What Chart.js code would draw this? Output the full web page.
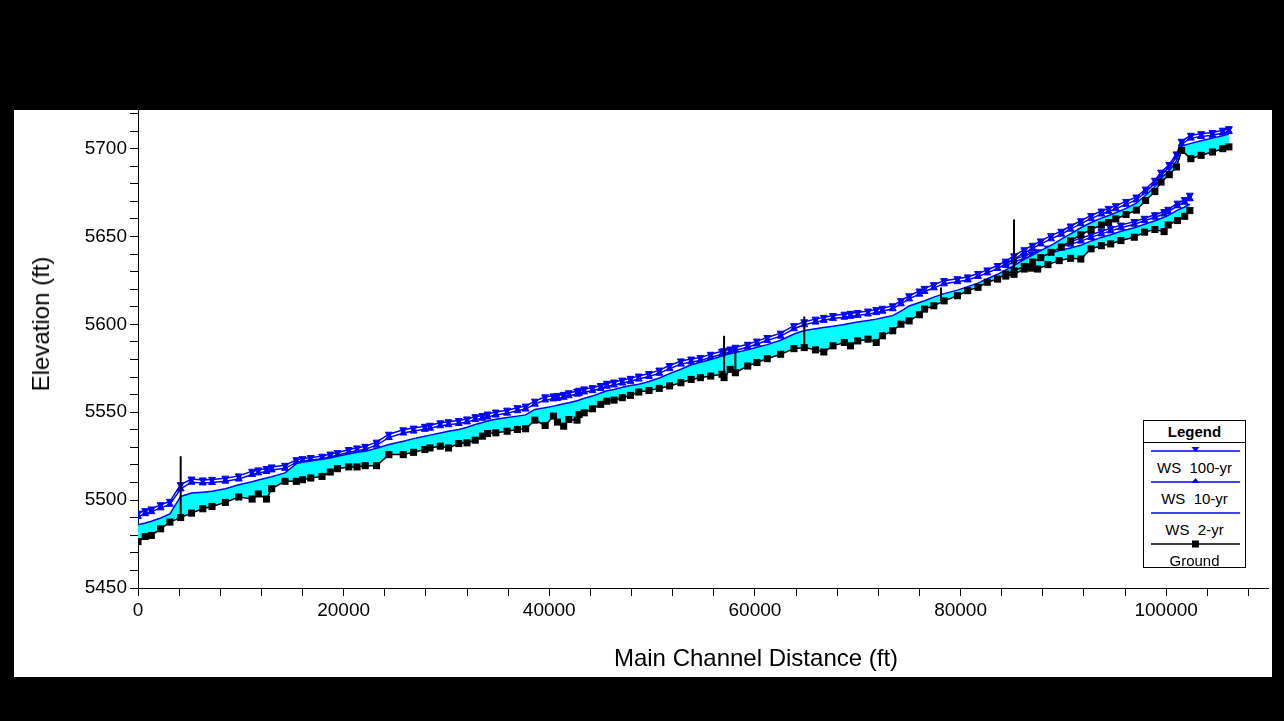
<!DOCTYPE html>
<html>
<head>
<meta charset="utf-8">
<title>Profile Plot</title>
<script src="https://cdn.jsdelivr.net/npm/chart.js@4.4.1/dist/chart.umd.min.js"></script>
<style>
  html, body { margin: 0; padding: 0; background: #000; }
  body { width: 1284px; height: 721px; position: relative; overflow: hidden;
         font-family: "Liberation Sans", Arial, sans-serif; }
  #panel { position: absolute; left: 14px; top: 110px; width: 1258px; height: 567px; background: #fff; }
  #chart { position: absolute; left: 0; top: 0; }
  .axis-title { position: absolute; font-size: 24px; color: #000; white-space: nowrap; line-height: 28px; }
  #x-title { left: 756px; top: 644px; transform: translateX(-50%); }
  #y-title { left: 41px; top: 324px; transform: translate(-50%, -50%) rotate(-90deg); }
  #legend { position: absolute; left: 1143px; top: 420px; width: 103px; height: 148px;
            box-sizing: border-box; border: 1px solid #000; background: #fff; }
  #legend .head { height: 21px; line-height: 21px; border-bottom: 1px solid #000;
                  text-align: center; font-weight: bold; font-size: 15px; }
  #legend .entry { position: relative; height: 31px; }
  #legend svg { position: absolute; left: 0; top: 1px; }
  #legend .lbl { position: absolute; left: 0; top: 16px; width: 101px; height: 18px; line-height: 18px;
                 text-align: center; font-size: 15px; white-space: pre; }
</style>
</head>
<body>
<div id="panel"><canvas id="chart" width="1255" height="567"></canvas></div>
<div class="axis-title" id="x-title">Main Channel Distance (ft)</div>
<div class="axis-title" id="y-title">Elevation (ft)</div>
<div id="legend"><div class="head">Legend</div></div>
<script>
// axis labels
const xTickLabels = [0, 20000, 40000, 60000, 80000, 100000];
const yTickLabels = [5450, 5500, 5550, 5600, 5650, 5700];
const xMinorStep = 4000;
const yMinorStep = 10;
const seriesLabels = ["WS  100-yr", "WS  10-yr", "WS  2-yr", "Ground"];

// main reach (cross sections, ft)
const mainStation = [
  0, 700, 1300, 2200, 3100, 4150, 5200, 6300, 7200, 8500,
  9800, 11100, 11700, 12500, 13000, 14300, 15400, 16000, 16800, 17900,
  18700, 19400, 20500, 21300, 22100, 23200, 24400, 25800, 26800, 27900,
  28400, 29400, 30200, 31200, 32000, 32800, 33500, 34000, 34800, 35900,
  36900, 37700, 38600, 39600, 40400, 40800, 41400, 41900, 42700, 42900,
  43400, 44200, 45000, 45600, 46300, 47100, 47900, 48700, 49700, 50700,
  51700, 52800, 53800, 54700, 55700, 56800, 57000, 57600, 58100, 59300,
  60200, 61200, 62500, 63800, 64800, 65900, 66700, 67600, 68700, 69300,
  70000, 71000, 71800, 72400, 73400, 74200, 75000, 76000, 76500, 77400,
  78400, 79700, 80700, 81700, 82600, 83600, 84400, 85200, 86200, 87000,
  87800, 88800, 89800, 90700, 91700, 92700, 93700, 94400, 95100, 96100,
  97100, 98000, 98900, 99500, 100300, 101000, 101500, 102400, 103400, 104500,
  105500, 106100
];
const mainGround = [
  5476.4, 5479.3, 5479.9, 5483.7, 5487.5, 5490.1, 5492.6, 5495.1, 5496.4, 5498.7,
  5501.8, 5500.6, 5503.5, 5500.6, 5506.5, 5510.7, 5510.7, 5511.6, 5512.6, 5513.5,
  5516.0, 5517.9, 5518.9, 5518.9, 5519.6, 5519.6, 5525.9, 5525.9, 5527.2, 5528.8,
  5529.7, 5530.7, 5529.7, 5532.2, 5532.6, 5534.1, 5536.4, 5537.9, 5538.3, 5539.2,
  5540.2, 5540.6, 5545.5, 5542.5, 5547.8, 5544.4, 5542.1, 5545.9, 5545.5, 5548.7,
  5549.7, 5552.0, 5554.5, 5556.3, 5556.9, 5558.3, 5559.6, 5561.5, 5562.4, 5563.6,
  5565.0, 5566.8, 5568.7, 5569.7, 5570.6, 5571.6, 5569.7, 5574.4, 5572.5, 5576.3,
  5578.3, 5580.5, 5583.0, 5586.2, 5586.8, 5585.5, 5584.3, 5587.8, 5589.7, 5587.8,
  5590.6, 5591.6, 5589.7, 5593.5, 5596.4, 5600.1, 5602.0, 5605.5, 5608.7, 5610.6,
  5613.4, 5616.3, 5619.2, 5621.1, 5624.0, 5625.8, 5628.7, 5630.5, 5633.0, 5635.5,
  5638.0, 5641.0, 5644.0, 5647.5, 5651.0, 5654.0, 5656.5, 5658.0, 5660.0, 5662.5,
  5665.0, 5670.5, 5675.6, 5681.0, 5685.2, 5689.6, 5699.0, 5694.3, 5696.2, 5698.1,
  5700.0, 5701.0
];
const mainWs2 = [
  5486.0, 5487.0, 5488.0, 5489.8, 5492.2, 5502.1, 5504.0, 5504.5, 5505.0, 5506.5,
  5508.8, 5510.5, 5511.5, 5512.6, 5513.3, 5515.5, 5520.8, 5521.5, 5522.3, 5523.3,
  5524.0, 5525.0, 5526.3, 5527.2, 5527.8, 5529.5, 5531.6, 5533.5, 5535.0, 5536.4,
  5537.0, 5538.2, 5539.2, 5540.2, 5541.5, 5543.0, 5544.2, 5545.0, 5546.0, 5547.0,
  5547.8, 5548.5, 5551.6, 5552.6, 5553.5, 5554.0, 5554.8, 5555.4, 5556.5, 5557.0,
  5558.0, 5559.2, 5561.0, 5562.2, 5563.0, 5564.2, 5565.2, 5566.0, 5567.5, 5569.5,
  5572.0, 5574.5, 5577.0, 5578.5, 5580.0, 5582.0, 5582.5, 5583.3, 5584.0, 5585.5,
  5587.0, 5588.5, 5591.0, 5594.5, 5596.5, 5597.5, 5598.2, 5599.0, 5600.0, 5600.6,
  5601.3, 5602.2, 5603.0, 5603.8, 5605.0, 5607.5, 5610.5, 5612.5, 5613.5, 5615.5,
  5617.5, 5619.5, 5621.5, 5623.5, 5626.0, 5628.5, 5631.0, 5633.5, 5637.0, 5639.5,
  5642.0, 5645.0, 5648.5, 5651.5, 5655.0, 5658.0, 5660.5, 5662.0, 5663.5, 5666.0,
  5669.0, 5673.5, 5678.5, 5683.0, 5687.5, 5693.0, 5701.5, 5703.0, 5704.5, 5706.0,
  5707.3, 5708.3
];
const mainWs10 = [
  5490.7, 5492.3, 5493.4, 5495.6, 5497.6, 5506.4, 5510.2, 5509.8, 5510.0, 5510.8,
  5512.0, 5514.6, 5515.5, 5516.3, 5517.2, 5518.1, 5521.5, 5522.1, 5522.8, 5523.6,
  5524.7, 5525.5, 5527.2, 5528.1, 5529.0, 5531.3, 5535.6, 5538.2, 5539.3, 5540.3,
  5540.9, 5542.3, 5542.9, 5543.6, 5544.5, 5545.8, 5546.6, 5547.3, 5548.4, 5549.5,
  5550.9, 5551.8, 5554.6, 5557.0, 5557.6, 5557.9, 5558.5, 5559.4, 5560.3, 5560.8,
  5561.6, 5562.3, 5563.5, 5564.8, 5565.5, 5566.6, 5567.6, 5568.9, 5570.3, 5572.2,
  5574.8, 5577.4, 5578.6, 5579.4, 5581.3, 5583.0, 5583.3, 5584.3, 5585.3, 5587.0,
  5588.8, 5590.8, 5593.3, 5597.5, 5599.8, 5601.3, 5602.3, 5603.3, 5604.1, 5604.6,
  5605.1, 5605.9, 5606.7, 5607.5, 5608.9, 5611.7, 5614.5, 5617.2, 5618.7, 5620.8,
  5623.1, 5624.3, 5625.3, 5627.3, 5629.3, 5631.8, 5634.3, 5637.2, 5640.7, 5643.2,
  5645.8, 5648.7, 5651.3, 5654.2, 5657.3, 5660.2, 5662.8, 5664.3, 5665.8, 5668.3,
  5670.8, 5675.3, 5680.3, 5684.9, 5689.3, 5695.3, 5702.6, 5706.0, 5706.9, 5707.6,
  5708.9, 5709.8
];
const mainWs100 = [
  5492.6, 5494.0, 5495.0, 5497.4, 5499.3, 5508.8, 5512.0, 5511.5, 5511.8, 5512.5,
  5513.8, 5516.4, 5517.2, 5518.0, 5518.9, 5519.8, 5523.0, 5523.6, 5524.2, 5525.0,
  5526.2, 5527.0, 5528.8, 5529.7, 5530.6, 5533.0, 5537.5, 5540.0, 5541.0, 5542.0,
  5542.6, 5544.0, 5544.6, 5545.3, 5546.2, 5547.5, 5548.2, 5549.0, 5550.1, 5551.2,
  5552.6, 5553.5, 5556.3, 5558.8, 5559.3, 5559.6, 5560.2, 5561.1, 5562.0, 5562.5,
  5563.3, 5564.0, 5565.2, 5566.5, 5567.2, 5568.3, 5569.3, 5570.6, 5572.0, 5574.0,
  5576.6, 5579.2, 5580.3, 5581.1, 5583.0, 5584.7, 5585.0, 5586.0, 5587.0, 5588.7,
  5590.5, 5592.5, 5595.0, 5599.3, 5601.5, 5603.0, 5604.0, 5605.0, 5605.8, 5606.3,
  5606.8, 5607.6, 5608.4, 5609.2, 5610.6, 5613.5, 5616.3, 5619.0, 5620.5, 5622.6,
  5624.9, 5626.0, 5627.0, 5629.0, 5631.0, 5633.5, 5636.0, 5639.0, 5642.5, 5645.0,
  5647.5, 5650.5, 5653.0, 5656.0, 5659.0, 5662.0, 5664.5, 5666.0, 5667.5, 5670.0,
  5672.5, 5677.0, 5682.0, 5686.6, 5691.0, 5697.0, 5704.2, 5707.6, 5708.5, 5709.2,
  5710.5, 5711.4
];

// second reach above the junction
const tribStation = [84400, 85200, 86200, 86900, 87500, 88500, 89600, 90700, 91700, 92700,
  93700, 94600, 95600, 96900, 97900, 98900, 99800, 100200, 101100, 101800, 102300];
const tribGround = [5627.5, 5628.5, 5631.5, 5632.0, 5631.5, 5634.0, 5636.3, 5637.6, 5637.2, 5643.0,
  5644.8, 5645.8, 5647.7, 5649.6, 5652.5, 5654.0, 5652.8, 5656.6, 5659.1, 5661.5, 5664.8];
const tribWs2 = [5630.5, 5632.5, 5635.5, 5636.8, 5638.0, 5640.0, 5642.0, 5643.5, 5645.0, 5647.5,
  5649.5, 5651.0, 5653.0, 5655.0, 5657.0, 5659.0, 5661.0, 5662.0, 5665.0, 5666.8, 5668.5];
const tribWs10 = [5633.5, 5635.5, 5637.5, 5638.8, 5640.0, 5642.0, 5644.0, 5645.6, 5647.4, 5649.5,
  5651.5, 5653.2, 5655.0, 5657.0, 5659.0, 5661.0, 5662.8, 5664.0, 5667.5, 5669.5, 5671.5];
const tribWs100 = [5635.0, 5637.0, 5639.0, 5640.2, 5641.3, 5643.4, 5645.4, 5647.1, 5649.0, 5651.0,
  5653.0, 5654.7, 5656.5, 5658.5, 5660.4, 5662.4, 5664.2, 5665.5, 5669.0, 5671.0, 5673.5];

// structures (bridges / weirs)
const structStation = [4150, 57000, 58100, 64800, 78100, 85200];
const structLow = [5490.0, 5569.7, 5572.5, 5586.8, 5613.5, 5630.5];
const structHigh = [5525.0, 5593.5, 5584.0, 5604.5, 5621.0, 5659.7];

const BLUE = "#0000ff";
const CYAN = "#00ffff";

const pts = (xs, ys) => xs.map((x, i) => ({ x: x, y: ys[i] }));

function reachSets(st, ground, ws2, ws10, ws100) {
  return [
    { data: pts(st, ground), borderColor: "#000", borderWidth: 1.5, pointStyle: "rect",
      pointRadius: 5, pointHoverRadius: 0, pointBackgroundColor: "#000", pointBorderColor: "#000", pointBorderWidth: 0 },
    { data: pts(st, ws2), borderColor: BLUE, borderWidth: 1.5, pointRadius: 0, pointHoverRadius: 0,
      fill: "-1", backgroundColor: CYAN },
    { data: pts(st, ws10), borderColor: BLUE, borderWidth: 1.5, pointStyle: "triangle",
      pointRadius: 4, pointHoverRadius: 0, pointBackgroundColor: BLUE, pointBorderColor: BLUE, pointBorderWidth: 1 },
    { data: pts(st, ws100), borderColor: BLUE, borderWidth: 1.5, pointStyle: "triangle", pointRotation: 180,
      pointRadius: 4, pointHoverRadius: 0, pointBackgroundColor: BLUE, pointBorderColor: BLUE, pointBorderWidth: 1 }
  ];
}

const datasets = [
  ...reachSets(mainStation, mainGround, mainWs2, mainWs10, mainWs100),
  ...reachSets(tribStation, tribGround, tribWs2, tribWs10, tribWs100)
];
structStation.forEach((s, i) => {
  datasets.push({
    data: [{ x: s, y: structLow[i] }, { x: s, y: structHigh[i] }],
    borderColor: "#000", borderWidth: 2, pointRadius: 0, pointHoverRadius: 0, fill: false, order: -1
  });
});

// evenly spaced minor ticks between min and max
function stepTicks(min, max, step) {
  const out = [];
  for (let v = min; v <= max; v += step) out.push({ value: v });
  return out;
}

Chart.defaults.font.family = '"Liberation Sans", Arial, sans-serif';
Chart.defaults.color = "#000";

new Chart(document.getElementById("chart"), {
  type: "line",
  data: { datasets: datasets },
  options: {
    responsive: false,
    animation: false,
    devicePixelRatio: 1,
    layout: { autoPadding: false, padding: 0 },
    plugins: { legend: { display: false }, tooltip: { enabled: false } },
    elements: { line: { tension: 0 } },
    scales: {
      x: {
        type: "linear", position: "bottom", min: 0, max: 110000,
        afterBuildTicks: (s) => { s.ticks = stepTicks(0, 110000, xMinorStep); },
        afterFit: (s) => { s.height = 89; s.paddingLeft = 0; s.paddingRight = 0; },
        ticks: {
          autoSkip: false, maxRotation: 0, minRotation: 0, padding: 3,
          font: { size: 19 }, color: "#000",
          callback: (v) => (xTickLabels.includes(v) ? String(v) : "")
        },
        grid: { drawOnChartArea: false, drawTicks: true, tickLength: 8, tickColor: "#000", color: "#000" },
        border: { display: true, color: "#000", width: 1 }
      },
      y: {
        type: "linear", position: "left", min: 5450, max: 5722,
        afterBuildTicks: (s) => { s.ticks = stepTicks(5450, 5722, yMinorStep); },
        afterFit: (s) => { s.width = 124; s.paddingTop = 0; s.paddingBottom = 0; },
        ticks: {
          autoSkip: false, padding: 3,
          font: { size: 19 }, color: "#000",
          callback: (v) => (yTickLabels.includes(v) ? String(v) : "")
        },
        grid: { drawOnChartArea: false, drawTicks: true, tickLength: 8, tickColor: "#000", color: "#000" },
        border: { display: true, color: "#000", width: 1 }
      }
    }
  }
});

// legend box in HEC-RAS style
const legend = document.getElementById("legend");
const markers = [
  '<polygon points="47.5,3 55.5,3 51.5,8" fill="#0000ff"/>',
  '<polygon points="47.5,8 55.5,8 51.5,3" fill="#0000ff"/>',
  "",
  '<rect x="48" y="3.5" width="7" height="7" fill="#000"/>'
];
seriesLabels.forEach((label, i) => {
  const color = i === 3 ? "#000" : BLUE;
  const entry = document.createElement("div");
  entry.className = "entry";
  entry.innerHTML =
    '<svg width="101" height="14"><line x1="7" y1="7" x2="96" y2="7" stroke="' + color +
    '" stroke-width="1.5"/>' + markers[i] + "</svg>" +
    '<div class="lbl"></div>';
  entry.querySelector(".lbl").textContent = label;
  legend.appendChild(entry);
});
</script>
</body>
</html>
